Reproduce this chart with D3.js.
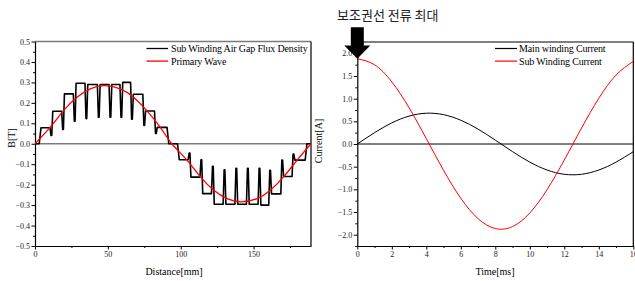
<!DOCTYPE html>
<html>
<head>
<meta charset="utf-8">
<script src="https://cdn.jsdelivr.net/npm/d3@7"></script>
<style>
  body { margin: 0; background: #fff; }
  svg text { font-family: "Liberation Serif", "Times New Roman", serif; }
</style>
</head>
<body>
<div id="chart"></div>
<script>
// ---- data ----
// left: sub winding air gap flux density, stepped blocks between slot edges
var fluxEdges = [3.5, 11.6, 19.6, 27.6, 35.6, 44.1, 52.1, 59.6, 66.9, 75.3, 83.3, 91.2,
                 98.4, 106.4, 114.5, 122.4, 130.4, 138.5, 146.4, 154.4, 161.7, 170.0, 177.7, 186.0];
var fluxLevels = [0.078, 0.159, 0.244, 0.296, 0.29, 0.29, 0.29, 0.30, 0.242, 0.16, 0.08, 0,
                  -0.078, -0.163, -0.244, -0.296, -0.296, -0.296, -0.296, -0.30, -0.245, -0.16, -0.08];
var fluxDips = [null, 0.04, 0.07, 0.11, 0.123, 0.13, 0.13, 0.13, 0.12, 0.09, 0.05, null,
                null, -0.045, -0.078, -0.11, -0.127, -0.12, -0.12, -0.12, -0.13, -0.08, -0.05, null];
// left: primary wave
var waveX = [0, 10.5, 19.6, 28.8, 37.9, 47.5, 58.5, 67.6, 76.7, 85.9, 93.9,
             104.4, 113.5, 122.7, 131.8, 141.4, 152.4, 161.5, 170.6, 179.8, 189.4];
var waveB = [0, 0.081, 0.162, 0.227, 0.268, 0.284, 0.268, 0.227, 0.162, 0.081, 0,
             -0.081, -0.162, -0.227, -0.268, -0.284, -0.268, -0.227, -0.162, -0.081, 0];
// right: winding currents
var timeMs = [0, 1, 2, 3, 4, 5, 6, 7, 8, 9, 10, 11, 12, 13, 14, 15, 16];
var mainCurrent = [0, 0.25, 0.466, 0.615, 0.679, 0.647, 0.524, 0.328, 0.085, -0.169, -0.400,
                   -0.574, -0.668, -0.668, -0.574, -0.400, -0.169];
var subCurrent = [1.88, 1.748, 1.371, 0.801, 0.118, -0.581, -1.198, -1.647, -1.865, -1.822,
                  -1.521, -1.008, -0.352, 0.352, 1.008, 1.521, 1.822];

var fluxTicks = [0, 50, 100, 150];
var bTicks = [0.5, 0.4, 0.3, 0.2, 0.1, 0, -0.1, -0.2, -0.3, -0.4, -0.5];
var timeTicks = [0, 2, 4, 6, 8, 10, 12, 14, 16];
var currentTicks = [2, 1.5, 1, 0.5, 0, -0.5, -1, -1.5, -2];

var svg = d3.select("#chart").append("svg")
    .attr("width", 635)
    .attr("height", 281);

// build the flux polyline from the blocks
var fluxPts = [[0, 0]];
fluxEdges.forEach(function (e, i) {
    var prev = i === 0 ? 0 : fluxLevels[i - 1];
    var next = i < fluxLevels.length ? fluxLevels[i] : 0;
    if (fluxDips[i] !== null) {
        fluxPts.push([e - 1.3, prev], [e - 0.6, fluxDips[i]], [e - 0.1, fluxDips[i]], [e + 0.6, next]);
    } else {
        fluxPts.push([e - 0.6, prev], [e + 0.6, next]);
    }
});
fluxPts.push([189.4, 0]);

// ---------- left chart ----------
var L = { left: 35, right: 311, top: 41.5, bottom: 246 };
var x1 = d3.scaleLinear().domain([0, 189.4]).range([L.left, L.right]);
var y1 = d3.scaleLinear().domain([-0.5, 0.5]).range([L.bottom, L.top]);

var g1 = svg.append("g");

// frame + zero line
g1.append("line").attr("x1", L.left).attr("x2", L.right).attr("y1", L.top).attr("y2", L.top)
    .attr("stroke", "#7a7a7a").attr("stroke-width", 1.6);
g1.append("line").attr("x1", L.right).attr("x2", L.right).attr("y1", L.top).attr("y2", L.bottom)
    .attr("stroke", "#000").attr("stroke-width", 1.2);
g1.append("line").attr("x1", L.left).attr("x2", L.right).attr("y1", y1(0)).attr("y2", y1(0))
    .attr("stroke", "#7a7a7a").attr("stroke-width", 1.6);

// minor ticks
g1.append("g").attr("transform", "translate(0," + L.bottom + ")")
    .call(d3.axisBottom(x1).tickValues([25, 75, 125, 175]).tickSize(2).tickFormat(""))
    .call(function (a) { a.select(".domain").remove(); });
g1.append("g").attr("transform", "translate(" + L.left + ",0)")
    .call(d3.axisLeft(y1).tickValues(d3.range(-0.45, 0.5, 0.1)).tickSize(2).tickFormat(""))
    .call(function (a) { a.select(".domain").remove(); });

// major axes
g1.append("g").attr("class", "ax").attr("transform", "translate(0," + L.bottom + ")")
    .call(d3.axisBottom(x1).tickValues(fluxTicks).tickSize(3.5).tickSizeOuter(0).tickPadding(2)
        .tickFormat(d3.format("d")));
g1.append("g").attr("class", "ax").attr("transform", "translate(" + L.left + ",0)")
    .call(d3.axisLeft(y1).tickValues(bTicks).tickSize(3.5).tickSizeOuter(0).tickPadding(1.5)
        .tickFormat(d3.format(".1f")));

g1.append("path")
    .datum(fluxPts)
    .attr("fill", "none")
    .attr("stroke", "#000")
    .attr("stroke-width", 1.6)
    .attr("stroke-linejoin", "round")
    .attr("d", d3.line().x(function (d) { return x1(d[0]); }).y(function (d) { return y1(d[1]); }));

g1.append("path")
    .datum(waveX.map(function (v, i) { return [v, waveB[i]]; }))
    .attr("fill", "none")
    .attr("stroke", "#ff0000")
    .attr("stroke-width", 1.3)
    .attr("d", d3.line().curve(d3.curveNatural)
        .x(function (d) { return x1(d[0]); }).y(function (d) { return y1(d[1]); }));

// legend
var leg1 = [["Sub Winding Air Gap Flux Density", "#000"], ["Primary Wave", "#ff0000"]];
leg1.forEach(function (d, i) {
    var yy = 48.5 + i * 12.6;
    g1.append("line").attr("x1", 146.5).attr("x2", 168).attr("y1", yy).attr("y2", yy)
        .attr("stroke", d[1]).attr("stroke-width", 1.3);
    g1.append("text").attr("x", 171).attr("y", yy + 3.5)
        .style("font-size", "10px").style("letter-spacing", "-0.15px").text(d[0]);
});

g1.append("text")
    .attr("transform", "translate(15,138) rotate(-90)")
    .attr("text-anchor", "middle")
    .style("font-size", "10px")
    .text("B[T]");
g1.append("text")
    .attr("x", 174).attr("y", 275)
    .attr("text-anchor", "middle")
    .style("font-size", "10px")
    .text("Distance[mm]");

// ---------- right chart ----------
var R = { left: 357.3, right: 633.3, top: 42, bottom: 246 };
var x2 = d3.scaleLinear().domain([0, 16]).range([R.left, R.right]);
var y2 = d3.scaleLinear().domain([-2.25, 2.25]).range([R.bottom, R.top]);

var g2 = svg.append("g");

g2.append("line").attr("x1", R.left).attr("x2", R.right).attr("y1", R.top).attr("y2", R.top)
    .attr("stroke", "#000").attr("stroke-width", 1.2);
g2.append("line").attr("x1", R.right).attr("x2", R.right).attr("y1", R.top).attr("y2", R.bottom)
    .attr("stroke", "#000").attr("stroke-width", 1.2);
g2.append("line").attr("x1", R.left).attr("x2", R.right).attr("y1", y2(0)).attr("y2", y2(0))
    .attr("stroke", "#000").attr("stroke-width", 1);

g2.append("g").attr("transform", "translate(0," + R.bottom + ")")
    .call(d3.axisBottom(x2).tickValues(d3.range(1, 16, 2)).tickSize(2).tickFormat(""))
    .call(function (a) { a.select(".domain").remove(); });
g2.append("g").attr("transform", "translate(" + R.left + ",0)")
    .call(d3.axisLeft(y2).tickValues(d3.range(-2.25, 2.3, 0.5)).tickSize(2).tickFormat(""))
    .call(function (a) { a.select(".domain").remove(); });

g2.append("g").attr("class", "ax").attr("transform", "translate(0," + R.bottom + ")")
    .call(d3.axisBottom(x2).tickValues(timeTicks).tickSize(3.5).tickSizeOuter(0).tickPadding(2)
        .tickFormat(d3.format("d")));
g2.append("g").attr("class", "ax").attr("transform", "translate(" + R.left + ",0)")
    .call(d3.axisLeft(y2).tickValues(currentTicks).tickSize(3.5).tickSizeOuter(0).tickPadding(1.5)
        .tickFormat(d3.format(".1f")));

var curLine = d3.line().curve(d3.curveNatural)
    .x(function (d, i) { return x2(timeMs[i]); })
    .y(function (d) { return y2(d); });
g2.append("path").datum(mainCurrent)
    .attr("fill", "none").attr("stroke", "#000").attr("stroke-width", 1).attr("d", curLine);
g2.append("path").datum(subCurrent)
    .attr("fill", "none").attr("stroke", "#ff0000").attr("stroke-width", 1).attr("d", curLine);

var leg2 = [["Main winding Current", "#000"], ["Sub Winding Current", "#ff0000"]];
leg2.forEach(function (d, i) {
    var yy = 48.5 + i * 12.6;
    g2.append("line").attr("x1", 495).attr("x2", 517).attr("y1", yy).attr("y2", yy)
        .attr("stroke", d[1]).attr("stroke-width", 1.2);
    g2.append("text").attr("x", 519).attr("y", yy + 3.5)
        .style("font-size", "10px").style("letter-spacing", "-0.15px").text(d[0]);
});

g2.append("text")
    .attr("transform", "translate(322,141) rotate(-90)")
    .attr("text-anchor", "middle")
    .style("font-size", "10px")
    .text("Current[A]");
g2.append("text")
    .attr("x", 495).attr("y", 275)
    .attr("text-anchor", "middle")
    .style("font-size", "10px")
    .text("Time[ms]");

// axis styling
svg.selectAll(".ax text").style("font-size", "8px").attr("fill", "#222");
svg.selectAll(".ax .domain").attr("stroke-width", 1.2);

// annotation: arrow pointing at the sub winding current peak
var tipX = x2(0), tipY = y2(subCurrent[0]);
svg.append("path")
    .attr("d", "M" + (tipX - 6.5) + "," + (tipY - 31.5) +
        " h13 v18.2 h6.5 L" + tipX + "," + tipY +
        " L" + (tipX - 13) + "," + (tipY - 13.3) + " h6.5 Z")
    .attr("fill", "#000");
svg.append("text")
    .attr("x", 337).attr("y", 19.5)
    .style("font-family", "'Noto Sans CJK KR', sans-serif")
    .style("font-size", "13px")
    .attr("fill", "#222")
    .text("보조권선 전류 최대");
</script>
</body>
</html>
